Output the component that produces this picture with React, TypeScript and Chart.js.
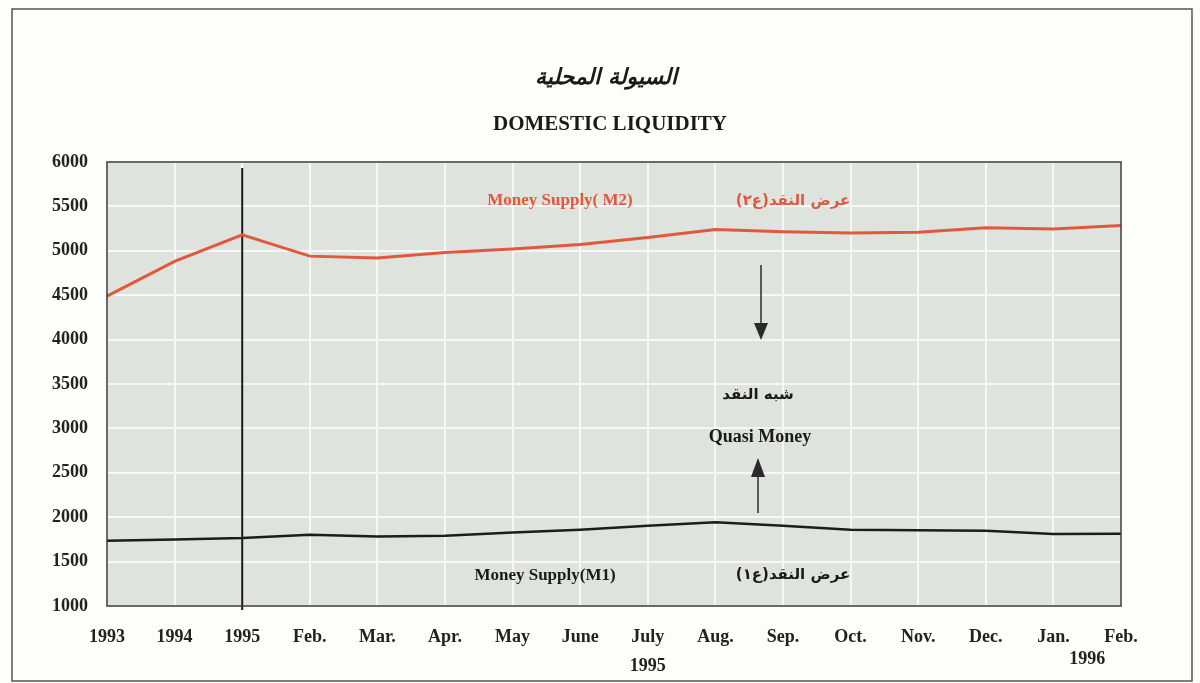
import React, { useEffect, useRef } from "react";
import { Chart, registerables } from "chart.js";

Chart.register(...registerables);

const categories = ["1993", "1994", "1995", "Feb.", "Mar.", "Apr.", "May", "June", "July", "Aug.", "Sep.", "Oct.", "Nov.", "Dec.", "Jan.", "Feb."];
const m2Values = [4490, 4880, 5180, 4940, 4920, 4980, 5020, 5070, 5150, 5240, 5215, 5200, 5210, 5260, 5245, 5285];
const m1Values = [1735, 1750, 1766, 1803, 1784, 1792, 1829, 1860, 1905, 1942, 1905, 1860, 1852, 1848, 1811, 1815];
const yTicks = [1000, 1500, 2000, 2500, 3000, 3500, 4000, 4500, 5000, 5500, 6000];

const titleAr = "السيولة المحلية";
const titleEn = "DOMESTIC LIQUIDITY";
const m2LabelEn = "Money Supply( M2)";
const m2LabelAr = "عرض النقد(ع٢)";
const m1LabelEn = "Money Supply(M1)";
const m1LabelAr = "عرض النقد(ع١)";
const quasiAr = "شبه النقد";
const quasiEn = "Quasi Money";
const year1995 = "1995";
const year1996 = "1996";

const SERIF = "'Liberation Serif', 'Times New Roman', serif";
const ARABIC = "'DejaVu Sans', sans-serif";
const RED = "#e2583c";
const INK = "#222222";

const decor = {
  id: "decor",
  beforeDraw(chart: any) {
    const { ctx, chartArea: a } = chart;
    ctx.save();
    ctx.fillStyle = "#fdfdfb";
    ctx.fillRect(0, 0, chart.width, chart.height);
    ctx.strokeStyle = "#555";
    ctx.lineWidth = 1.5;
    ctx.strokeRect(12, 9, 1180, 672);
    ctx.fillStyle = "#dee3dd";
    ctx.fillRect(a.left, a.top, a.right - a.left, a.bottom - a.top);
    ctx.restore();
  },
  beforeDatasetsDraw(chart: any) {
    const { ctx, chartArea: a, scales } = chart;
    const x = scales.x.getPixelForValue(2);
    ctx.save();
    ctx.strokeStyle = "#1a1a1a";
    ctx.lineWidth = 2;
    ctx.beginPath();
    ctx.moveTo(x, a.top + 6);
    ctx.lineTo(x, a.bottom + 4);
    ctx.stroke();
    ctx.restore();
  },
  afterDraw(chart: any) {
    const { ctx, chartArea: a, scales } = chart;
    const xs = scales.x;
    ctx.save();
    ctx.strokeStyle = "#3a3a3a";
    ctx.lineWidth = 1.5;
    ctx.strokeRect(a.left, a.top, a.right - a.left, a.bottom - a.top);

    ctx.textAlign = "center";
    ctx.textBaseline = "middle";
    ctx.fillStyle = "#1a1a1a";
    ctx.font = `italic bold 22px ${ARABIC}`;
    ctx.direction = "rtl";
    ctx.fillText(titleAr, 606, 78);
    ctx.direction = "ltr";
    ctx.font = `bold 21px ${SERIF}`;
    ctx.fillText(titleEn, 610, 125);

    ctx.font = `bold 17px ${SERIF}`;
    ctx.fillStyle = RED;
    ctx.fillText(m2LabelEn, 560, 201);
    ctx.font = `bold 15px ${ARABIC}`;
    ctx.direction = "rtl";
    ctx.fillText(m2LabelAr, 793, 201);
    ctx.direction = "ltr";

    ctx.fillStyle = "#1a1a1a";
    ctx.font = `bold 17px ${SERIF}`;
    ctx.fillText(m1LabelEn, 545, 576);
    ctx.font = `bold 15px ${ARABIC}`;
    ctx.direction = "rtl";
    ctx.fillText(m1LabelAr, 793, 575);

    ctx.fillText(quasiAr, 758, 395);
    ctx.direction = "ltr";
    ctx.font = `bold 18px ${SERIF}`;
    ctx.fillText(quasiEn, 760, 437);

    ctx.strokeStyle = "#2a2a2a";
    ctx.fillStyle = "#2a2a2a";
    ctx.lineWidth = 1.5;
    ctx.beginPath();
    ctx.moveTo(761, 265);
    ctx.lineTo(761, 326);
    ctx.stroke();
    ctx.beginPath();
    ctx.moveTo(754, 323);
    ctx.lineTo(768, 323);
    ctx.lineTo(761, 340);
    ctx.closePath();
    ctx.fill();

    ctx.beginPath();
    ctx.moveTo(758, 513);
    ctx.lineTo(758, 474);
    ctx.stroke();
    ctx.beginPath();
    ctx.moveTo(751, 477);
    ctx.lineTo(765, 477);
    ctx.lineTo(758, 458);
    ctx.closePath();
    ctx.fill();

    ctx.fillStyle = INK;
    ctx.font = `bold 18px ${SERIF}`;
    ctx.fillText(year1995, xs.getPixelForValue(8), 666);
    ctx.fillText(year1996, (xs.getPixelForValue(14) + xs.getPixelForValue(15)) / 2, 659);
    ctx.restore();
  },
};

export default function App() {
  const ref = useRef<HTMLCanvasElement | null>(null);
  useEffect(() => {
    if (!ref.current) return;
    const chart = new Chart(ref.current, {
      type: "line",
      data: {
        labels: categories,
        datasets: [
          {
            label: "M2",
            data: m2Values,
            borderColor: RED,
            borderWidth: 3,
            pointRadius: 0,
            tension: 0,
          },
          {
            label: "M1",
            data: m1Values,
            borderColor: "#1c1c1c",
            borderWidth: 2.5,
            pointRadius: 0,
            tension: 0,
          },
        ],
      },
      options: {
        responsive: false,
        animation: false,
        devicePixelRatio: 1,
        layout: { padding: { top: 162, right: 79, left: 0, bottom: 0 } },
        plugins: {
          legend: { display: false },
          title: { display: false },
          tooltip: { enabled: false },
        },
        scales: {
          x: {
            type: "category",
            offset: false,
            afterFit: (s: any) => {
              s.height = 77;
            },
            grid: { color: "#f6f8f5", lineWidth: 2, drawTicks: false },
            border: { display: false },
            ticks: {
              autoSkip: false,
              maxRotation: 0,
              padding: 21,
              color: INK,
              font: { family: SERIF, size: 18, weight: "bold" },
            },
          },
          y: {
            min: 1000,
            max: 6000,
            afterFit: (s: any) => {
              s.width = 107;
            },
            afterBuildTicks: (s: any) => {
              s.ticks = yTicks.map((v) => ({ value: v }));
            },
            grid: { color: "#f6f8f5", lineWidth: 2, drawTicks: false },
            border: { display: false },
            ticks: {
              padding: 19,
              color: INK,
              font: { family: SERIF, size: 18, weight: "bold" },
              callback: (v: any) => String(v),
            },
          },
        },
      },
      plugins: [decor],
    } as any);
    return () => chart.destroy();
  }, []);
  return (
    <div style={{ position: "fixed", left: 0, top: 0, width: 1200, height: 683 }}>
      <canvas ref={ref} width={1200} height={683} />
    </div>
  );
}
